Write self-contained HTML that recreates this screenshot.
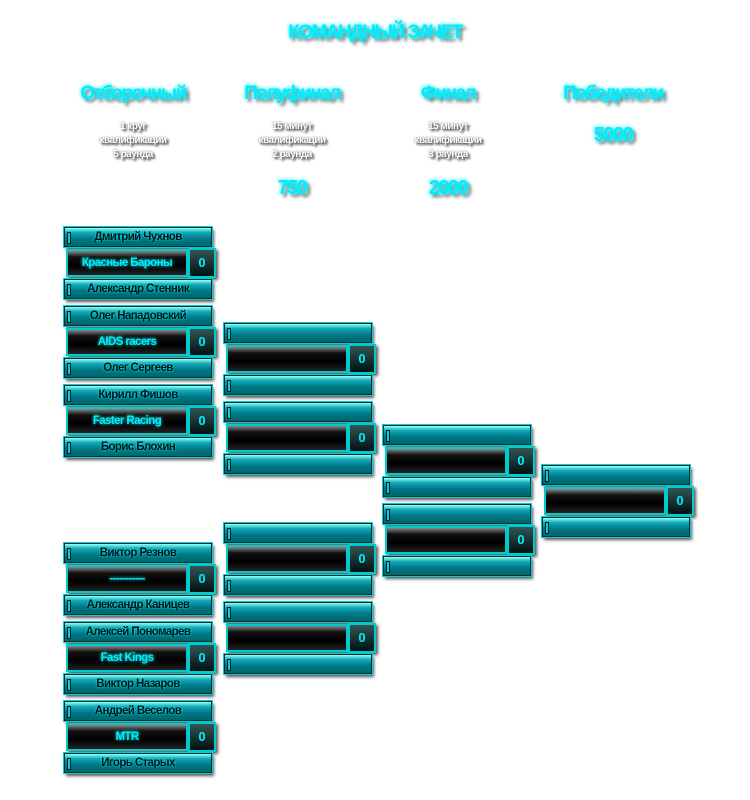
<!DOCTYPE html>
<html><head><meta charset="utf-8"><style>
body{margin:0;width:750px;height:800px;background:#fff;position:relative;overflow:hidden;font-family:"Liberation Sans","DejaVu Sans",sans-serif;font-weight:bold}
.t{position:absolute;text-align:center;color:#00eefc;letter-spacing:-1.5px;text-shadow:0 0 4px #00f0ff,3px 3px 3px #666}
.w{position:absolute;text-align:center;color:#fff;font-size:10px;letter-spacing:-0.5px;line-height:14px;text-shadow:2px 2px 2px #333,0 0 2px #666}
.g{position:absolute;width:150px;height:76px}
.bar{position:absolute;left:0;width:146px;height:18px;background:linear-gradient(#9fe,#1ab 25%,#078 60%,#066);border:1px solid #033;box-shadow:0 0 0 1px #0cd,2px 3px 3px #555;font-size:11.5px;letter-spacing:-0.6px;line-height:18px;text-align:center;color:#011;text-shadow:0 0 2px #0ff}
.bar:before{content:"";position:absolute;left:2px;top:4px;width:2px;height:10px;background:#1cd;border:1px solid #022}
.mid{position:absolute;left:2px;top:22px;width:118px;height:24px;background:linear-gradient(#888,#111 25%,#000 60%,#222);border:2px solid #0cc;box-shadow:2px 2px 3px #555;font-size:11.5px;letter-spacing:-0.6px;line-height:24px;text-align:center;color:#00eefc;text-shadow:0 0 3px #0ff;overflow:hidden;white-space:nowrap}
.sc{position:absolute;left:124px;top:21px;width:24px;height:26px;background:linear-gradient(#355,#011);border:2px solid #0cc;box-shadow:2px 2px 3px #555;font-size:13px;line-height:26px;text-align:center;color:#00eefc}
.b2{top:52px}
</style></head><body>
<div class="t" style="left:250px;top:22px;width:250px;font-size:19px">КОМАНДНЫЙ ЗАЧЕТ</div>
<div class="t" style="left:58px;top:83px;width:150px;font-size:19px">Отборочный</div>
<div class="t" style="left:217px;top:83px;width:150px;font-size:19px">Полуфинал</div>
<div class="t" style="left:373px;top:83px;width:150px;font-size:19px">Финал</div>
<div class="t" style="left:538px;top:83px;width:150px;font-size:19px">Победители</div>
<div class="w" style="left:58px;top:120px;width:150px">1 круг<br>квалификации<br>5 раунда</div>
<div class="w" style="left:217px;top:120px;width:150px">15 минут<br>квалификации<br>2 раунда</div>
<div class="w" style="left:373px;top:120px;width:150px">15 минут<br>квалификации<br>3 раунда</div>
<div class="t" style="left:538px;top:124px;width:150px;font-size:20px">5000</div>
<div class="t" style="left:217px;top:177px;width:150px;font-size:20px">750</div>
<div class="t" style="left:373px;top:177px;width:150px;font-size:20px">2000</div>

<div class="g" style="left:64px;top:227px"><div class="bar" style="top:0">Дмитрий Чухнов</div><div class="mid">Красные Бароны</div><div class="sc">0</div><div class="bar b2">Александр Стенник</div></div>
<div class="g" style="left:64px;top:306px"><div class="bar" style="top:0">Олег Нападовский</div><div class="mid">AIDS racers</div><div class="sc">0</div><div class="bar b2">Олег Сергеев</div></div>
<div class="g" style="left:64px;top:385px"><div class="bar" style="top:0">Кирилл Фишов</div><div class="mid">Faster Racing</div><div class="sc">0</div><div class="bar b2">Борис Блохин</div></div>
<div class="g" style="left:64px;top:543px"><div class="bar" style="top:0">Виктор Резнов</div><div class="mid">-----------</div><div class="sc">0</div><div class="bar b2">Александр Каницев</div></div>
<div class="g" style="left:64px;top:622px"><div class="bar" style="top:0">Алексей Пономарев</div><div class="mid">Fast Kings</div><div class="sc">0</div><div class="bar b2">Виктор Назаров</div></div>
<div class="g" style="left:64px;top:701px"><div class="bar" style="top:0">Андрей Веселов</div><div class="mid">MTR</div><div class="sc">0</div><div class="bar b2">Игорь Старых</div></div>

<div class="g" style="left:224px;top:323px"><div class="bar" style="top:0"></div><div class="mid"></div><div class="sc">0</div><div class="bar b2"></div></div>
<div class="g" style="left:224px;top:402px"><div class="bar" style="top:0"></div><div class="mid"></div><div class="sc">0</div><div class="bar b2"></div></div>
<div class="g" style="left:224px;top:523px"><div class="bar" style="top:0"></div><div class="mid"></div><div class="sc">0</div><div class="bar b2"></div></div>
<div class="g" style="left:224px;top:602px"><div class="bar" style="top:0"></div><div class="mid"></div><div class="sc">0</div><div class="bar b2"></div></div>

<div class="g" style="left:383px;top:425px"><div class="bar" style="top:0"></div><div class="mid"></div><div class="sc">0</div><div class="bar b2"></div></div>
<div class="g" style="left:383px;top:504px"><div class="bar" style="top:0"></div><div class="mid"></div><div class="sc">0</div><div class="bar b2"></div></div>

<div class="g" style="left:542px;top:465px"><div class="bar" style="top:0"></div><div class="mid"></div><div class="sc">0</div><div class="bar b2"></div></div>
</body></html>
